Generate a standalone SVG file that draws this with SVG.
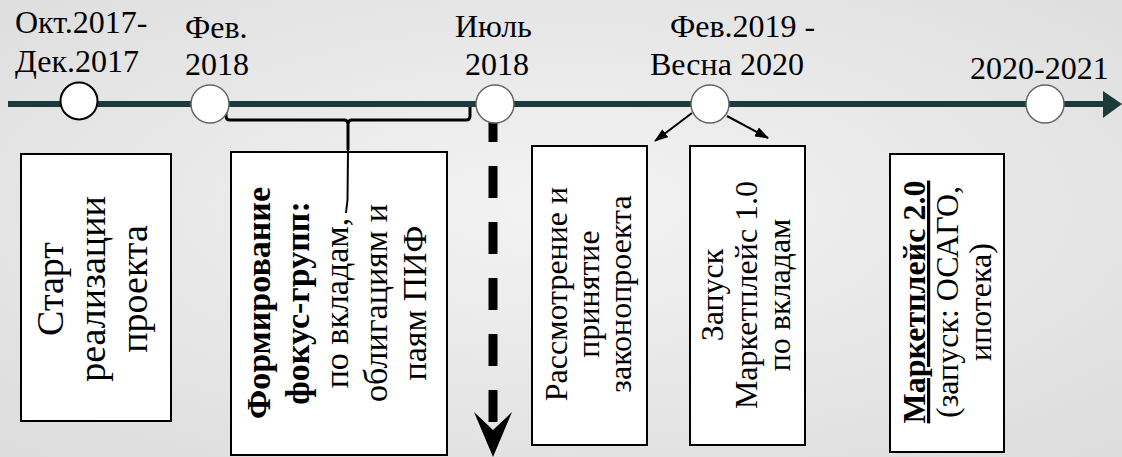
<svg xmlns="http://www.w3.org/2000/svg" width="1122" height="457" viewBox="0 0 1122 457">
<defs>
<radialGradient id="bg" cx="50%" cy="45%" r="75%">
<stop offset="0" stop-color="#f3f3f3"/>
<stop offset="1" stop-color="#dcdcdc"/>
</radialGradient>
<marker id="ah" markerWidth="14" markerHeight="10" refX="13" refY="5" orient="auto" markerUnits="userSpaceOnUse">
<path d="M0,0 L14,5 L0,10 Z" fill="#000"/>
</marker>
<style>
.lbl{font-family:"Liberation Serif","Times New Roman",serif;font-size:32px;fill:#000}
.t{font-family:"Liberation Serif","Times New Roman",serif;fill:#000;text-anchor:middle}
.b{font-weight:bold}
.box{fill:#fff;stroke:#000;stroke-width:2}
.dot{fill:#fff;stroke:#666;stroke-width:1.5}
</style>
</defs>
<rect width="1122" height="457" fill="url(#bg)"/>

<g id="timeline">
<line x1="8" y1="104" x2="1105" y2="104" stroke="#1c3a3c" stroke-width="6"/>
<polygon points="1103,91 1122,104 1103,118" fill="#1c3a3c"/>
</g>

<g id="box1">
<rect class="box" x="21" y="154" width="150" height="267"/>
<g class="t" font-size="38">
<text transform="translate(63,289) rotate(-90)">Старт</text>
<text transform="translate(105,289) rotate(-90)">реализации</text>
<text transform="translate(147,289) rotate(-90)">проекта</text>
</g>
</g>

<g id="box2">
<rect class="box" x="231" y="152" width="216" height="303"/>
<g class="t" font-size="34">
<text class="b" transform="translate(270,303) rotate(-90)">Формирование</text>
<text class="b" transform="translate(309,303) rotate(-90)">фокус-групп:</text>
<text transform="translate(348,303) rotate(-90)">по вкладам,</text>
<text transform="translate(387,303) rotate(-90)">облигациям и</text>
<text transform="translate(426,303) rotate(-90)">паям ПИФ</text>
</g>
</g>

<g id="box3">
<rect class="box" x="532" y="146" width="115" height="299"/>
<g class="t" font-size="32">
<text transform="translate(567,294) rotate(-90)">Рассмотрение и</text>
<text transform="translate(599,294) rotate(-90)">принятие</text>
<text transform="translate(631,294) rotate(-90)">законопроекта</text>
</g>
</g>

<g id="box4">
<rect class="box" x="690" y="146" width="115" height="299"/>
<g class="t" font-size="32">
<text transform="translate(723,295) rotate(-90)">Запуск</text>
<text transform="translate(757,295) rotate(-90)">Маркетплейс 1.0</text>
<text transform="translate(790,295) rotate(-90)">по вкладам</text>
</g>
</g>

<g id="box5">
<rect class="box" x="890" y="154" width="114" height="298"/>
<g class="t" font-size="32">
<text class="b" text-decoration="underline" transform="translate(925,302) rotate(-90)">Маркетплейс 2.0</text>
<text transform="translate(958,302) rotate(-90)">(запуск: ОСАГО,</text>
<text transform="translate(991,302) rotate(-90)">ипотека)</text>
</g>
</g>

<g id="connectors" fill="none" stroke="#000">
<path d="M226,107 L226,116 Q226,120 230,120 L344,120 Q348,120 348,124 L348,150" stroke-width="3"/>
<path d="M348,124 Q348,120 352,120 L466,120 Q470,120 470,116 L470,107" stroke-width="3"/>
<path d="M348,150 L347.5,200 L346,213" stroke-width="2"/>
<line x1="493" y1="110" x2="493" y2="422" stroke-width="9" stroke-dasharray="32 24"/>
<polygon points="474,412 493,430 512,412 493,457" fill="#000" stroke="none"/>
<line x1="692" y1="113" x2="655" y2="141" stroke-width="2" marker-end="url(#ah)"/>
<line x1="727" y1="116" x2="768" y2="138" stroke-width="2" marker-end="url(#ah)"/>
</g>

<g id="m1">
<circle cx="79" cy="101" r="18.5" fill="#fff" stroke="#000" stroke-width="2"/>
<text class="lbl" x="15" y="33">Окт.2017-</text>
<text class="lbl" x="15" y="72">Дек.2017</text>
</g>
<g id="m2">
<circle class="dot" cx="210" cy="104" r="19"/>
<text class="lbl" x="185" y="38">Фев.</text>
<text class="lbl" x="185" y="75">2018</text>
</g>
<g id="m3">
<circle class="dot" cx="495" cy="104" r="19"/>
<text class="lbl" x="455" y="37">Июль</text>
<text class="lbl" x="465" y="75">2018</text>
</g>
<g id="m4">
<circle class="dot" cx="710" cy="104" r="19"/>
<text class="lbl" x="670" y="37">Фев.2019 -</text>
<text class="lbl" x="650" y="75">Весна 2020</text>
</g>
<g id="m5">
<circle class="dot" cx="1045" cy="104" r="19"/>
<text class="lbl" x="970" y="79">2020-2021</text>
</g>
</svg>
